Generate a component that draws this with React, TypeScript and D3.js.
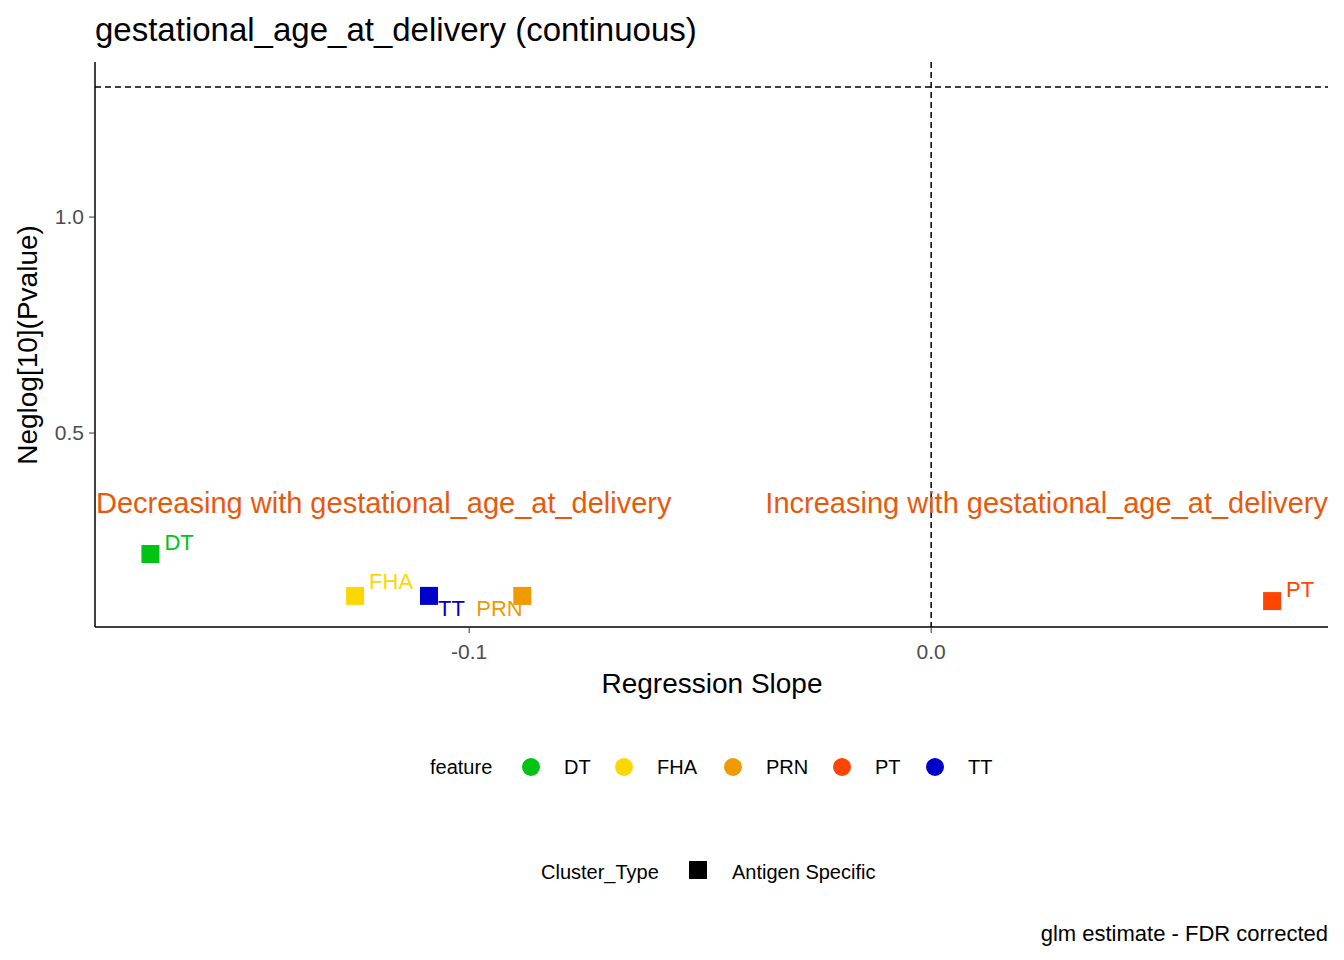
import * as d3 from "d3";

const features = ["DT", "FHA", "PRN", "PT", "TT"];
const featureColors = ["#00C313", "#FFD700", "#EE9A00", "#FF4500", "#0000CD"];
const slopes = [-0.169, -0.1247, -0.0885, 0.0738, -0.1087];
const neglogP = [0.22, 0.123, 0.123, 0.111, 0.123];
// label nudge (px) like ggrepel placement
const labelDx = [14, 14, -46, 14, 9];
const labelDy = [-4, -7, 20, -4, 20];

const W = 1344, H = 960;
const font = "'Liberation Sans', Arial, sans-serif";

export default function App() {
  const x = d3.scaleLinear().domain([-0.181, 0.0859]).range([95, 1328]);
  const y = d3.scaleLinear().domain([0.051, 1.359]).range([627, 62]);
  const xTicks = [-0.1, 0.0];
  const yTicks = [0.5, 1.0];
  const annY = y(0.338);
  const orange = "#E8590C";
  return (
    <div style={{ position: "fixed", left: 0, top: 0 }}>
      <svg width={W} height={H} style={{ fontFamily: font, background: "#fff" }}>
        <text x={95} y={41} fontSize={33}>gestational_age_at_delivery (continuous)</text>
        <line x1={95} x2={1328} y1={y(1.301)} y2={y(1.301)} stroke="#000" strokeDasharray="6,4" strokeWidth={1.5} />
        <line x1={x(0)} x2={x(0)} y1={62} y2={627} stroke="#000" strokeDasharray="6,4" strokeWidth={1.5} />
        <line x1={95} x2={95} y1={62} y2={627} stroke="#000" strokeWidth={1.5} />
        <line x1={95} x2={1328} y1={627} y2={627} stroke="#000" strokeWidth={1.5} />
        {xTicks.map((t) => (
          <g key={t}>
            <line x1={x(t)} x2={x(t)} y1={627} y2={633} stroke="#333" />
            <text x={x(t)} y={659} textAnchor="middle" fontSize={21} fill="#4d4d4d">{t.toFixed(1)}</text>
          </g>
        ))}
        {yTicks.map((t) => (
          <g key={t}>
            <line x1={89} x2={95} y1={y(t)} y2={y(t)} stroke="#333" />
            <text x={84} y={y(t) + 7} textAnchor="end" fontSize={21} fill="#4d4d4d">{t.toFixed(1)}</text>
          </g>
        ))}
        <text x={712} y={693} textAnchor="middle" fontSize={28}>Regression Slope</text>
        <text transform={`translate(37,345) rotate(-90)`} textAnchor="middle" fontSize={28}>Neglog[10](Pvalue)</text>
        <text x={96} y={annY + 10} fontSize={29} fill={orange}>Decreasing with gestational_age_at_delivery</text>
        <text x={1328} y={annY + 10} textAnchor="end" fontSize={29} fill={orange}>Increasing with gestational_age_at_delivery</text>
        {features.map((f, i) => (
          <g key={f}>
            <rect x={x(slopes[i]) - 9} y={y(neglogP[i]) - 9} width={18} height={18} fill={featureColors[i]} />
            <text x={x(slopes[i]) + labelDx[i]} y={y(neglogP[i]) + labelDy[i]} fontSize={22} fill={featureColors[i]}>{f}</text>
          </g>
        ))}
        <text x={430} y={774} fontSize={20}>feature</text>
        {features.map((f, i) => {
          const cx = [531, 624, 733, 842, 935][i];
          return (
            <g key={f}>
              <circle cx={cx} cy={767} r={9} fill={featureColors[i]} />
              <text x={cx + 33} y={774} fontSize={20}>{f}</text>
            </g>
          );
        })}
        <text x={541} y={879} fontSize={20}>Cluster_Type</text>
        <rect x={689} y={861} width={18} height={18} fill="#000" />
        <text x={732} y={879} fontSize={20}>Antigen Specific</text>
        <text x={1328} y={941} textAnchor="end" fontSize={22}>glm estimate - FDR corrected</text>
      </svg>
    </div>
  );
}
